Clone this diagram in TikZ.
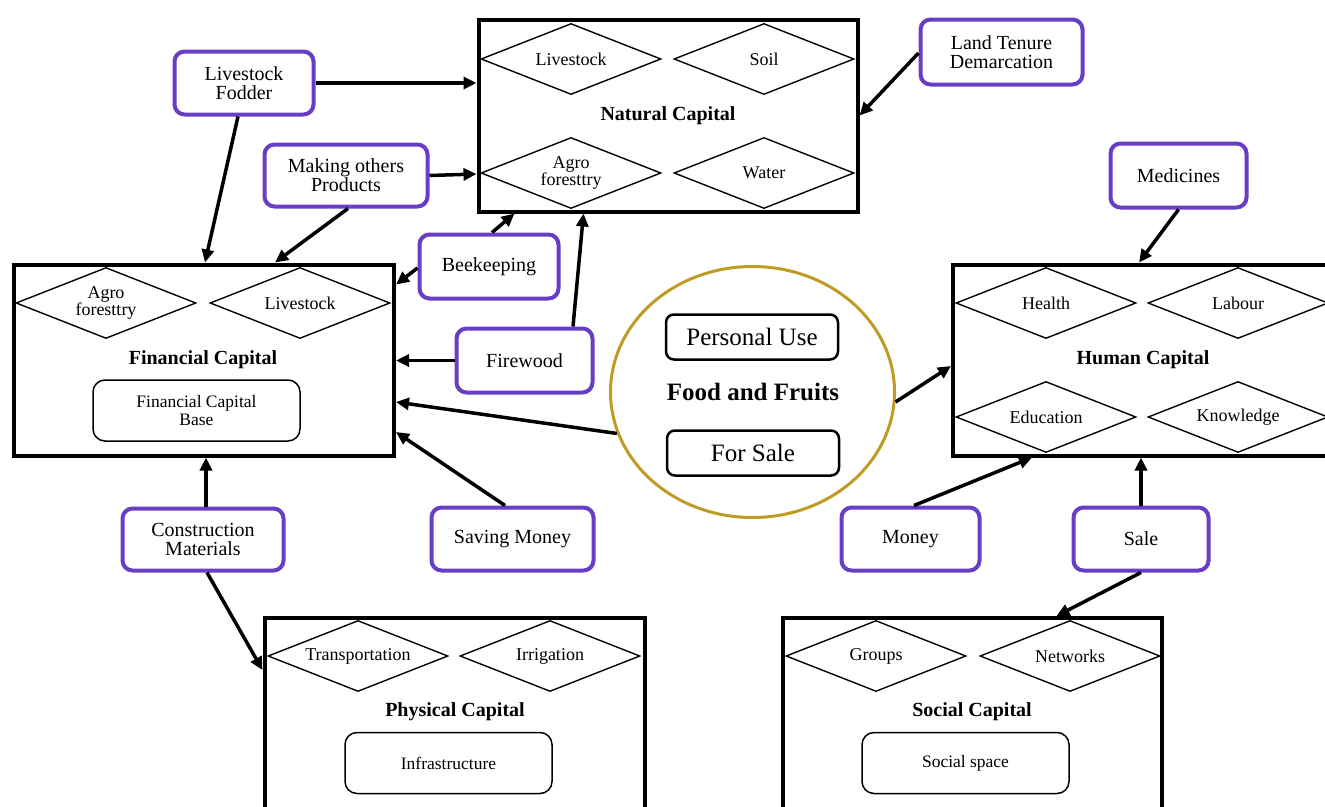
\documentclass[tikz,border=0pt]{standalone}
\usepackage{fontspec}
\setmainfont{Liberation Serif}
\usetikzlibrary{shapes.geometric,arrows.meta,calc}
\definecolor{pcol}{RGB}{104,62,196}
\definecolor{gcol}{RGB}{191,155,38}
\begin{document}
\begin{tikzpicture}[x=1pt,y=-1pt,
 bigbox/.style={draw, line width=4pt, inner sep=0pt},
 dia/.style={draw, diamond, aspect=2.5, minimum width=180pt, minimum height=71pt, inner sep=0pt, line width=1.4pt, align=center, font=\fontsize{18}{17.5}\selectfont},
 ttl/.style={font=\bfseries\fontsize{20}{22}\selectfont},
 inbox/.style={draw, rounded corners=12pt, line width=1.5pt, minimum width=207pt, minimum height=61pt, align=center, font=\fontsize{17.5}{18}\selectfont},
 pbox/.style={draw=pcol, line width=4pt, rounded corners=10pt, align=center, inner sep=0pt, font=\fontsize{20}{19}\selectfont},
 ubox/.style={draw, line width=2.5pt, rounded corners=8pt, minimum width=172pt, minimum height=45pt, inner sep=0pt, font=\fontsize{25}{27}\selectfont},
 arr/.style={line width=3.5pt, -{Triangle[length=13pt,width=12pt]}},
]
\useasboundingbox (0,0) rectangle (1325,806);
\clip (0,0) rectangle (1325,806);

% ---- Natural Capital
\node[bigbox, minimum width=379pt, minimum height=192pt] (nat) at (668,115.5) {};
\node[dia] (natliv) at (571,59) {Livestock};
\node[dia] (natsoil) at (764,59) {Soil};
\node[dia] (natagro) at (571,173) {Agro\\foresttry};
\node[dia] (natwater) at (764,173) {Water};
\node[ttl] (natt) at (668,116) {Natural Capital};

% ---- Financial Capital
\node[bigbox, minimum width=380pt, minimum height=191pt] (fin) at (204,360) {};
\node[dia] (finagro) at (106,303) {Agro\\foresttry};
\node[dia] (finliv) at (300,303) {Livestock};
\node[ttl] (fint) at (203,360) {Financial Capital};
\node[inbox] (finbase) at (196.5,410.5) {Financial Capital\\Base};

% ---- Human Capital
\node[bigbox, minimum width=394pt, minimum height=191pt] (hum) at (1150,360) {};
\node[dia] (humhealth) at (1046,303) {Health};
\node[dia] (humlab) at (1238,303) {Labour};
\node[dia] (humedu) at (1046,417) {Education};
\node[dia] (humknow) at (1238,417) {Knowledge};
\node[ttl] (humt) at (1143,360) {Human Capital};

% ---- Physical Capital
\node[bigbox, minimum width=380pt, minimum height=220pt] (phys) at (454.5,728) {};
\node[dia] (phtrans) at (358,656) {Transportation};
\node[dia] (phirr) at (550,656) {Irrigation};
\node[ttl] (pht) at (455,712) {Physical Capital};
\node[inbox] (phinfra) at (448.5,763) {Infrastructure};

% ---- Social Capital
\node[bigbox, minimum width=379pt, minimum height=220pt] (soc) at (972,728) {};
\node[dia] (socgr) at (876,656) {Groups};
\node[dia] (socnet) at (1070,656) {Networks};
\node[ttl] (soct) at (972,712) {Social Capital};
\node[inbox] (socsp) at (965.5,763) {Social space};

% ---- Food and Fruits
\node[draw=gcol, ellipse, line width=3pt, minimum width=284pt, minimum height=251pt] (food) at (752.5,392) {};
\node[ubox] (pers) at (752,337) {Personal Use};
\node[ubox] (sale2) at (753,453) {For Sale};
\node[font=\bfseries\fontsize{25}{27}\selectfont] (foodt) at (753,392) {Food and Fruits};

% ---- purple boxes
\node[pbox, minimum width=139pt, minimum height=63pt] (fodder) at (244,83) {Livestock\\Fodder};
\node[pbox, minimum width=163pt, minimum height=62pt] (making) at (346,175.5) {Making others\\Products};
\node[pbox, minimum width=162pt, minimum height=65pt] (land) at (1001.5,52) {Land Tenure\\Demarcation};
\node[pbox, minimum width=136pt, minimum height=64pt] (med) at (1178.5,175.5) {Medicines};
\node[pbox, minimum width=139pt, minimum height=64pt] (bee) at (489,266.5) {Beekeeping};
\node[pbox, minimum width=136pt, minimum height=64pt] (fire) at (524.5,360.5) {Firewood};
\node[pbox, minimum width=162pt, minimum height=63pt] (save) at (512.5,539) {Saving Money};
\node[pbox, minimum width=161pt, minimum height=62pt] (cons) at (203,539.5) {Construction\\Materials};
\node[pbox, minimum width=138pt, minimum height=63pt] (money) at (910.5,539) {Money};
\node[pbox, minimum width=135pt, minimum height=63pt] (sale) at (1141,539) {Sale};

% ---- connectors
\draw[arr] (fodder.east) -- (fodder.east -| nat.west);
\draw[arr] ($(fodder.south)+(-6,0)$) -- ($(fin.north)+(1,0)$);
\draw[arr] (making.east) -- ($(nat.west)+(0,58.5)$);
\draw[arr] ($(making.south)+(2,0)$) -- ($(fin.north)+(71,0)$);
\draw[arr] ($(land.west)+(0,1)$) -- (nat.east);
\draw[arr] ($(bee.north)+(3,0)$) -- ($(nat.south west)+(38,0)$);
\draw[arr] ($(bee.west)+(0,1.5)$) -- ($(fin.north east)+(0,22)$);
\draw[arr] ($(fire.north)+(48.5,0)$) -- ($(nat.south west)+(107,0)$);
\draw[arr] (fire.west) -- (fire.west -| fin.east);
\draw[arr] (food.197) -- ($(fin.east)+(0,42)$);
\draw[arr] ($(save.north)+(-7.5,0)$) -- ($(fin.east)+(0,72)$);
\draw[arr] ($(cons.north)+(3,0)$) -- ($(fin.south)+(2,0)$);
\draw[arr] ($(cons.south)+(4,0)$) -- ($(phys.north west)+(0,54)$);
\draw[arr] (food.-4) -- ($(hum.west)+(0,6)$);
\draw[arr] (med.south) -- ($(hum.north west)+(188,0)$);
\draw[arr] ($(money.north)+(3.5,0)$) -- ($(hum.south west)+(81,0)$);
\draw[arr] (sale.north) -- (sale.north |- hum.south);
\draw[arr] (sale.south) -- ($(soc.north west)+(276,0)$);
\end{tikzpicture}
\end{document}
